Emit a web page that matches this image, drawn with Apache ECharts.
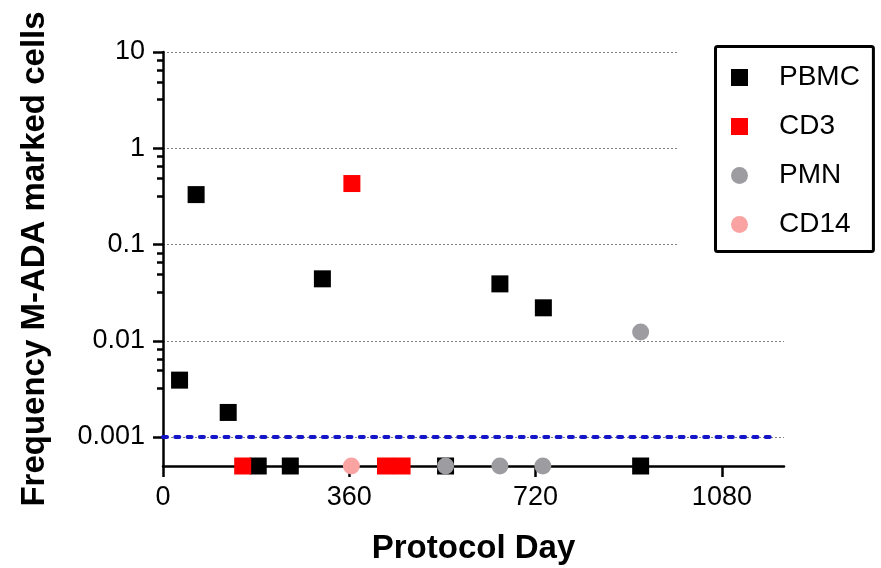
<!DOCTYPE html>
<html><head><meta charset="utf-8">
<script src="https://cdn.jsdelivr.net/npm/echarts@6/dist/echarts.min.js"></script>
<style>html,body{margin:0;padding:0;background:#fff}#c{width:881px;height:568px}</style>
</head><body><div id="c"></div>
<script>
// ---- data ----
const pbmcDays = [32, 64, 126, 184, 246, 308, 546, 651, 735, 923];
const pbmcVals = [0.0039, 0.33, 0.0018, 0.0005, 0.0005, 0.044, 0.0005, 0.039, 0.022, 0.0005];
const cd3Days = [154, 365, 430, 462];
const cd3Vals = [0.0005, 0.43, 0.0005, 0.0005];
const pmnDays = [546, 651, 734, 923];
const pmnVals = [0.0005, 0.0005, 0.0005, 0.0123];
const cd14Days = [364];
const cd14Vals = [0.0005];
const seriesNames = ['PBMC', 'CD3', 'PMN', 'CD14'];

const xTicks = [0, 360, 720, 1080];
const xTickLabels = ['0', '360', '720', '1080'];
const xMin = 0, xMax = 1200;
const yTicks = [0.001, 0.01, 0.1, 1, 10];
const yTickLabels = ['0.001', '0.01', '0.1', '1', '10'];
const yMin = 0.0005, yMax = 10;
const minorMultipliers = [3.2, 4.9, 6.5, 8.2];
const minorDecades = [0.001, 0.01, 0.1, 1];
const detectionLimit = 0.001;
const detectionLineEnd = 1186;

const minorTicks = [];
minorDecades.forEach(d => minorMultipliers.forEach(m => minorTicks.push(+(m * d).toPrecision(4))));

const zip = (xs, ys) => xs.map((x, i) => [x, ys[i]]);
const FONT = '"Liberation Sans", Arial, Helvetica, sans-serif';

const chart = echarts.init(document.getElementById('c'), null, {renderer: 'canvas'});

function mkSeries(name, xs, ys, symbol, color, extra) {
  return Object.assign({
    name, type: 'scatter', data: zip(xs, ys), symbol, symbolSize: 17,
    itemStyle: {color, opacity: 1}, emphasis: {disabled: true}, animation: false
  }, extra || {});
}

chart.setOption({
  animation: false,
  backgroundColor: '#fff',
  textStyle: {fontFamily: FONT},
  grid: {left: 163, right: 97, top: 52, bottom: 102, containLabel: false, outerBoundsMode: 'none'},
  xAxis: {
    type: 'value', min: xMin, max: xMax,
    name: 'Protocol Day', nameLocation: 'middle', nameGap: 66,
    nameTextStyle: {fontSize: 33, fontWeight: 'bold', color: '#000', fontFamily: FONT},
    axisLine: {onZero: false, lineStyle: {color: '#000', width: 2.5}},
    axisTick: {customValues: xTicks, length: 11, lineStyle: {color: '#000', width: 2.5}},
    axisLabel: {
      customValues: xTicks, margin: 18, fontSize: 27, color: '#000', fontFamily: FONT,
      formatter: v => {
        const i = xTicks.indexOf(Math.round(v));
        return i >= 0 ? xTickLabels[i] : '';
      }
    },
    splitLine: {show: false}
  },
  yAxis: [{
    type: 'log', logBase: 10, min: yMin, max: yMax,
    name: 'Frequency M-ADA marked cells', nameLocation: 'middle', nameGap: 112,
    nameTextStyle: {fontSize: 33, fontWeight: 'bold', color: '#000', fontFamily: FONT},
    axisLine: {onZero: false, lineStyle: {color: '#000', width: 2.5}},
    axisTick: {customValues: yTicks, length: 10, lineStyle: {color: '#000', width: 2.5}},
    axisLabel: {
      customValues: yTicks, margin: 18, fontSize: 27, color: '#000', fontFamily: FONT,
      formatter: v => {
        const i = yTicks.findIndex(t => Math.abs(t - v) / t < 1e-6);
        return i >= 0 ? yTickLabels[i] : '';
      }
    },
    splitLine: {show: true, lineStyle: {color: '#808080', width: 1, type: [2, 2]}}
  }, {
    type: 'log', logBase: 10, min: yMin, max: yMax, position: 'left',
    axisLine: {show: false},
    axisTick: {customValues: minorTicks, length: 6, lineStyle: {color: '#000', width: 2.5}},
    axisLabel: {show: false},
    splitLine: {show: false}
  }],
  legend: {
    data: seriesNames, orient: 'vertical', left: 715.5, top: 46.5,
    padding: [17, 13.5, 13, 15.5], itemWidth: 17, itemHeight: 17, itemGap: 21,
    borderColor: '#000', borderWidth: 3, borderRadius: 2, backgroundColor: '#fff',
    selectedMode: false,
    textStyle: {fontSize: 28, color: '#000', fontFamily: FONT, lineHeight: 28, padding: [0, 0, 0, 26]}
  },
  graphic: [{
    type: 'rect', silent: true, z: 1,
    shape: {x: 678, y: 40, width: 120, height: 222},
    style: {fill: '#fff'}
  }],
  series: [
    mkSeries(seriesNames[0], pbmcDays, pbmcVals, 'rect', '#000000', {
      markLine: {
        silent: true, symbol: 'none', animation: false,
        label: {show: false},
        lineStyle: {color: '#1414c8', width: 4, type: [4, 8.3], cap: 'round', opacity: 1},
        emphasis: {disabled: true},
        data: [[{coord: [xMin, detectionLimit]}, {coord: [detectionLineEnd, detectionLimit]}]]
      }
    }),
    mkSeries(seriesNames[1], cd3Days, cd3Vals, 'rect', '#ff0000'),
    mkSeries(seriesNames[2], pmnDays, pmnVals, 'circle', '#9d9ca1'),
    mkSeries(seriesNames[3], cd14Days, cd14Vals, 'circle', '#f9a3a3')
  ]
});
</script>
</body></html>
